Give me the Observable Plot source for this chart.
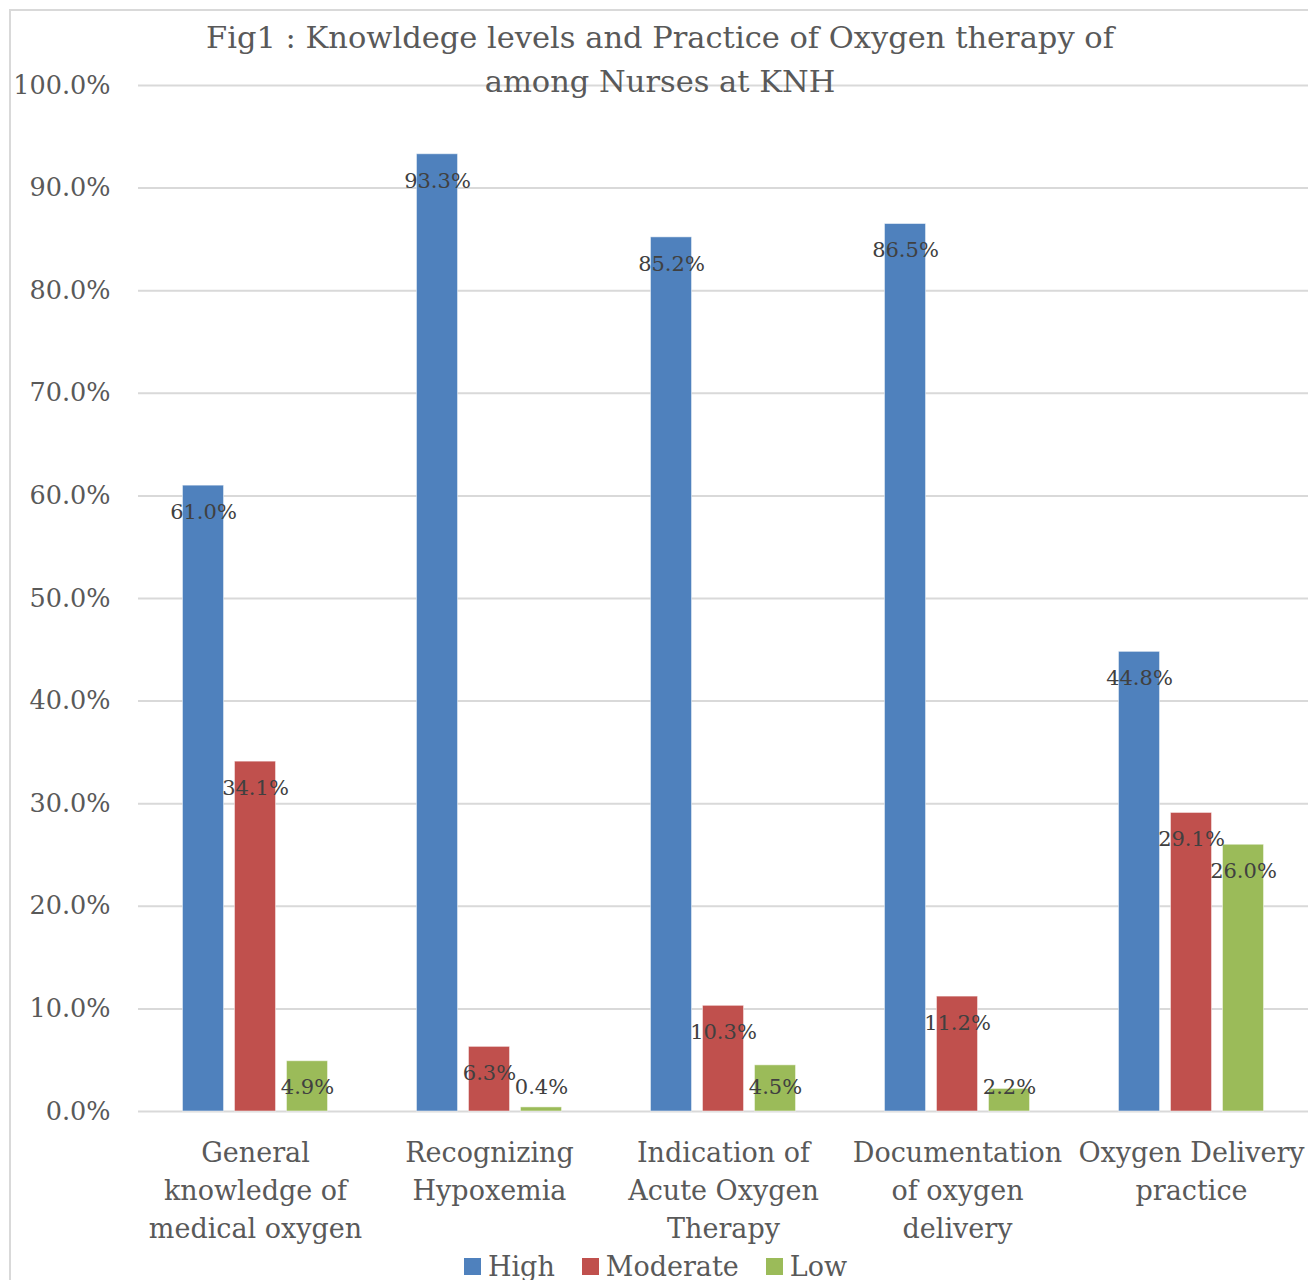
<!DOCTYPE html>
<html>
<head>
<meta charset="utf-8">
<script src="https://cdn.jsdelivr.net/npm/d3@7"></script>
<script src="https://cdn.jsdelivr.net/npm/@observablehq/plot@0.6"></script>
<style>
  html, body { margin: 0; padding: 0; background: #fff; overflow: hidden; }
  #wrap { position: relative; width: 1308px; height: 1280px; font-family: "DejaVu Serif", serif; }
  #frame { position: absolute; left: 9px; top: 9px; width: 1400px; height: 1400px; border: 2px solid #d9d9d9; box-sizing: border-box; pointer-events: none; }
  #title { position: absolute; left: 0; top: 16px; width: 1320px; text-align: center; font-size: 30.5px; line-height: 44px; color: #595959; z-index: 2; }
  #legend { display: flex; justify-content: center; width: 1308px; margin-top: 5px; padding-left: 30px; box-sizing: border-box; }
  #legend svg { margin-right: 7px !important; }
  #chart svg { display: block; }
</style>
</head>
<body>
<div id="wrap">
  <div id="frame"></div>
  <div id="title">Fig1 : Knowldege levels and Practice of Oxygen therapy of<br>among Nurses at KNH</div>
  <div id="chart"></div>
  <div id="legend"></div>
</div>
<script>
const categories = [
  "General\nknowledge of\nmedical oxygen",
  "Recognizing\nHypoxemia",
  "Indication of\nAcute Oxygen\nTherapy",
  "Documentation\nof oxygen\ndelivery",
  "Oxygen Delivery\npractice"
];
const series = ["High", "Moderate", "Low"];
const colors = ["#4F81BD", "#C0504D", "#9BBB59"];
const high = [61.0, 93.3, 85.2, 86.5, 44.8];
const moderate = [34.1, 6.3, 10.3, 11.2, 29.1];
const low = [4.9, 0.4, 4.5, 2.2, 26.0];
const yTicks = [0, 10, 20, 30, 40, 50, 60, 70, 80, 90, 100];

const seriesValues = [high, moderate, low];
const data = [];
categories.forEach((c, i) => {
  series.forEach((s, j) => data.push({category: c, series: s, value: seriesValues[j][i]}));
});

const font = "DejaVu Serif";
const chart = Plot.plot({
  width: 1308,
  height: 1245,
  marginLeft: 138,
  marginRight: 0,
  marginTop: 85,
  marginBottom: 134,
  style: {fontFamily: font, background: "transparent"},
  fx: {domain: categories, padding: 0, axis: null, label: null},
  x: {domain: series, paddingInner: 0.21, paddingOuter: 0.855, axis: null, round: false},
  y: {domain: [0, 100], axis: null, label: null},
  color: {domain: series, range: colors},
  marks: [
    Plot.gridY(yTicks, {stroke: "#d9d9d9", strokeWidth: 2, strokeOpacity: 1}),
    Plot.barY(data, {fx: "category", x: "series", y: "value", fill: "series", stroke: "#ffffff", strokeOpacity: 0.5, strokeWidth: 1}),
    Plot.text(data, {
      fx: "category", x: "series",
      y: d => Math.max(d.value - 2.6, 2.35),
      text: d => d.value.toFixed(1) + "%",
      fontSize: 21, fill: "#404040"
    }),
    Plot.axisY(yTicks, {
      tickSize: 0, tickPadding: 28, fontSize: 25.5, fill: "#595959",
      tickFormat: d => d.toFixed(1) + "%", label: null
    }),
    Plot.axisFx({
      anchor: "bottom",
      tickSize: 0, tickPadding: 24, fontSize: 27, lineHeight: 1.4,
      fill: "#595959", label: null
    })
  ]
});
document.getElementById("chart").appendChild(chart);

const legend = Plot.legend({
  color: {domain: series, range: colors},
  swatchSize: 17,
  style: {fontSize: "27px", fontFamily: font, color: "#595959"}
});
document.getElementById("legend").appendChild(legend);
</script>
</body>
</html>
